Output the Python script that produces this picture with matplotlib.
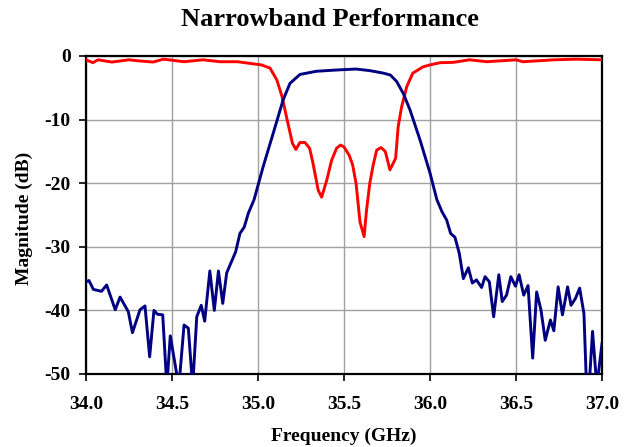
import matplotlib
matplotlib.use("Agg")
from matplotlib import pyplot as plt

plt.rcParams['font.family'] = ['Liberation Serif', 'DejaVu Serif']
plt.rcParams['font.weight'] = 'bold'
plt.rcParams['axes.unicode_minus'] = False

# Transmission (blue) trace, GHz / dB
blue_freq = [34.00, 34.017, 34.043, 34.09, 34.12, 34.17, 34.198, 34.246, 34.27, 34.314,
             34.343, 34.37, 34.395, 34.415, 34.446, 34.47, 34.49, 34.54, 34.57, 34.595,
             34.62, 34.644, 34.67, 34.69, 34.72, 34.746, 34.77, 34.795, 34.818, 34.87,
             34.895, 34.92, 34.944, 34.977, 35.03, 35.07, 35.10, 35.146, 35.186, 35.244,
             35.34, 35.457, 35.57, 35.65, 35.73, 35.77, 35.806, 35.845, 35.884, 35.942,
             36.00, 36.04, 36.07, 36.097, 36.12, 36.145, 36.17, 36.194, 36.223, 36.246,
             36.27, 36.30, 36.32, 36.345, 36.37, 36.40, 36.42, 36.445, 36.47, 36.497,
             36.518, 36.545, 36.57, 36.597, 36.62, 36.645, 36.67, 36.70, 36.72, 36.745,
             36.77, 36.80, 36.82, 36.846, 36.87, 36.895, 36.91, 36.925, 36.945, 36.97, 37.00]
blue_db = [-35.5, -35.3, -36.7, -37.0, -36.0, -39.9, -37.9, -40.2, -43.5, -39.9,
           -39.3, -47.3, -40.0, -40.6, -40.7, -52.0, -44.0, -52.0, -42.3, -42.8,
           -52.0, -41.0, -39.2, -41.7, -33.8, -40.0, -33.8, -38.9, -34.1, -30.8,
           -27.9, -26.9, -24.7, -22.6, -17.4, -13.8, -11.1, -6.9, -4.3, -2.9,
           -2.4, -2.2, -2.05, -2.3, -2.7, -3.0, -4.0, -5.9, -8.5, -13.2,
           -18.4, -22.6, -24.5, -25.8, -27.9, -28.5, -31.0, -35.0, -33.3, -35.7,
           -35.2, -36.4, -34.7, -35.5, -41.0, -34.4, -38.6, -37.6, -34.7, -36.2,
           -34.4, -37.6, -36.1, -47.5, -37.1, -39.9, -44.7, -41.5, -43.2, -36.3,
           -40.7, -36.3, -39.2, -38.1, -36.5, -40.5, -52.0, -52.0, -43.3, -52.0, -45.2]

# Reflection (red) trace, GHz / dB
red_freq = [34.00, 34.04, 34.07, 34.15, 34.25, 34.30, 34.39, 34.45, 34.57, 34.68,
            34.78, 34.88, 34.95, 35.02, 35.07, 35.11, 35.14, 35.17, 35.20, 35.22,
            35.244, 35.273, 35.30, 35.32, 35.35, 35.37, 35.40, 35.428, 35.457, 35.48,
            35.50, 35.53, 35.55, 35.57, 35.593, 35.617, 35.63, 35.65, 35.67, 35.69,
            35.715, 35.74, 35.767, 35.80, 35.815, 35.835, 35.865, 35.90, 35.96, 36.00,
            36.06, 36.135, 36.23, 36.33, 36.50, 36.54, 36.72, 36.85, 37.00]
red_db = [-0.6, -1.05, -0.6, -0.95, -0.6, -0.75, -0.95, -0.5, -0.9, -0.6,
          -0.9, -0.9, -1.15, -1.4, -1.9, -3.8, -6.4, -10.1, -13.7, -14.7,
          -13.6, -13.6, -14.5, -16.9, -21.1, -22.2, -19.5, -16.4, -14.5, -14.0,
          -14.3, -15.6, -17.1, -20.0, -26.1, -28.4, -24.5, -20.0, -17.1, -14.8,
          -14.4, -15.0, -17.9, -16.1, -11.1, -8.0, -4.8, -2.7, -1.7, -1.4,
          -1.05, -1.0, -0.6, -0.9, -0.6, -0.9, -0.6, -0.5, -0.6]

x_ticks = [34.0, 34.5, 35.0, 35.5, 36.0, 36.5, 37.0]
y_ticks = [0, -10, -20, -30, -40, -50]

fig = plt.figure(figsize=(6.31, 4.47), dpi=100)
ax = fig.add_axes([86 / 631, 1 - 374 / 447, 516 / 631, 318 / 447])

ax.plot(red_freq, red_db, color='#ff0000', lw=2.1, zorder=3)
ax.plot(blue_freq, blue_db, color='#000080', lw=2.1, zorder=3)

ax.set_xlim(34.0, 37.0)
ax.set_ylim(-50, 0)
ax.set_xticks(x_ticks)
ax.set_xticklabels(['%.1f' % t for t in x_ticks])
ax.set_yticks(y_ticks)
ax.grid(True, color='#a0a0a0', lw=1.0)
ax.set_axisbelow(True)

for s in ax.spines.values():
    s.set_linewidth(1.6)
    s.set_color('black')

ax.tick_params(axis='both', direction='out', length=5, width=1.2, labelsize=14)
ax.tick_params(axis='x', pad=11)
ax.tick_params(axis='y', pad=6)

# axis titles and chart title placed in figure pixels
fig.text(344 / 631, 1 - 436 / 447, 'Frequency (GHz)', ha='center', va='center',
         fontsize=14, fontweight='bold')
fig.text(24 / 631, 1 - 218 / 447, 'Magnitude (dB)', ha='center', va='center',
         rotation=90, fontsize=14, fontweight='bold')
fig.text(330 / 631, 1 - 20 / 447, 'Narrowband Performance', ha='center', va='center',
         fontsize=19, fontweight='bold')

fig.savefig('out.png', dpi=100)
